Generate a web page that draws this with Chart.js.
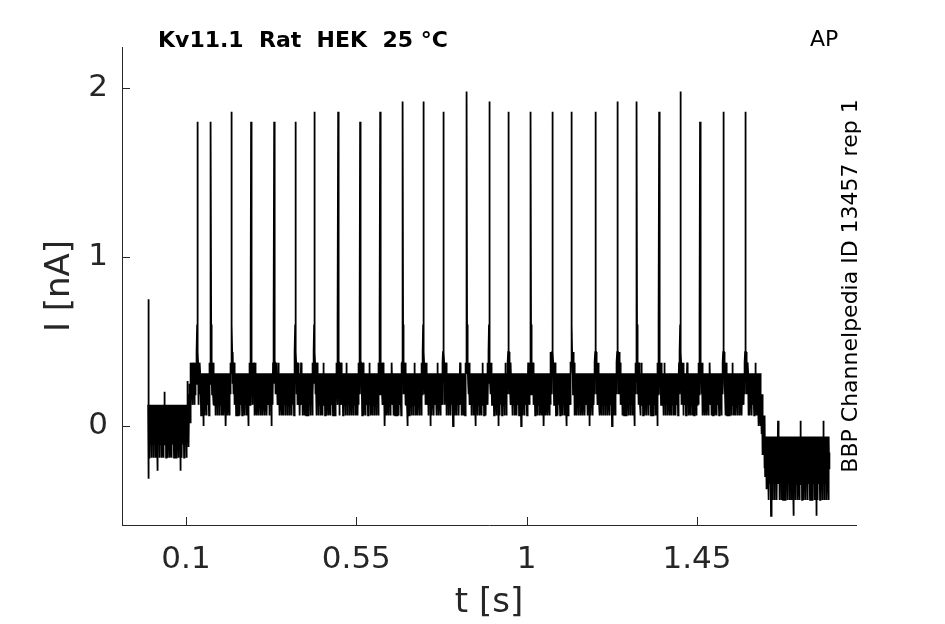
<!DOCTYPE html>
<html>
<head>
<meta charset="utf-8">
<title>Kv11.1 Rat HEK 25 °C - AP</title>
<script src="https://cdn.jsdelivr.net/npm/chart.js@4.4.0/dist/chart.umd.min.js"></script>
<style>
  html, body { margin: 0; padding: 0; background: #fff; }
  #wrap { width: 945px; height: 624px; }
</style>
</head>
<body>
<div id="wrap"><canvas id="traceChart" width="945" height="624"></canvas></div>
<script>
// Datos
const xTicks = [0.1, 0.55, 1, 1.45];
const yTicks = [0, 1, 2];
const sampleStep = 0.0005;  // s
const traceEnd = 1.8;       // s

// Tramos de la línea base: inicio (s), nivel inferior y superior del ruido (nA)
const segStart = [0, 0.104, 0.108, 0.112, 0.128, 1.612, 1.618, 1.624, 1.630, 1.640];
const segLo = [-0.1875, -0.125, -0.0625, 0.125, 0.0625, 0.0, -0.125, -0.25, -0.375, -0.4375];
const segHi = [0.125, 0.1875, 0.25, 0.375, 0.3125, 0.3125, 0.1875, 0.0625, -0.0625, -0.0625];

// Ruido de cuantización (en cuartos del tramo)
const noisePattern = [
  3,1,4,2,3,0,4,2,1,3,4,2,3,1,4,3,2,0,3,4,1,2,4,3,1,3,4,2,0,3,
  4,1,3,2,4,3,1,4,2,3,0,4,3,1,2,4,3,2,1,4,3,-1,2,4,1,3,4,2,3,0,
  4,2,3,1,4,3,2,4,1,3,0,4,2,3,4,1,2,4,3,1,4,2,0,3,4,1,3,2,5,3,
  1,4,2,3,4,0,2,3,1,4,3,2,4,1,3,0,4,2,3,1,4,3,2,1,4,0,3,4,2,3
];

// Transitorio inicial (nA)
const onsetTrace = [0.125, 0.75, 0.75, -0.3125, -0.1875];

// Picos de corriente
const spikeTimes = [0.130, 0.166, 0.221, 0.272, 0.333, 0.389, 0.439, 0.502, 0.560,
  0.613, 0.673, 0.727, 0.780, 0.842, 0.901, 0.952, 1.011, 1.068, 1.119, 1.182,
  1.240, 1.291, 1.350, 1.406, 1.458, 1.520, 1.578];
const spikePeaks = [1.80, 1.80, 1.86, 1.80, 1.80, 1.80, 1.86, 1.86, 1.80,
  1.86, 1.92, 1.92, 1.86, 1.98, 1.92, 1.86, 1.86, 1.86, 1.86, 1.86,
  1.92, 1.92, 1.86, 1.98, 1.80, 1.86, 1.86];
const spikeBefore = [0.375, 0.4375, 0.6];
const spikeAfter = [0.6, 0.4375, 0.4375, 0.375];
// Hombro alrededor de cada pico: ventana (s) y subida del ruido (nA)
const shoulderBefore = 0.004;
const shoulderAfter = 0.008;
const shoulderLift = 0.0625;

// Construir la traza
function buildTrace() {
  const points = [];
  const n = Math.round(traceEnd / sampleStep);
  let seg = 0;
  for (let i = 0; i <= n; i++) {
    const t = i * sampleStep;
    while (seg + 1 < segStart.length && t >= segStart[seg + 1] - 1e-9) seg++;
    const k = noisePattern[i % noisePattern.length];
    points.push({ x: t, y: segLo[seg] + k * (segHi[seg] - segLo[seg]) / 4 });
  }
  onsetTrace.forEach((v, j) => { points[j].y = v; });
  spikeTimes.forEach((ts, s) => {
    const i0 = Math.round(ts / sampleStep);
    const a = i0 - Math.round(shoulderBefore / sampleStep);
    const b = i0 + Math.round(shoulderAfter / sampleStep);
    for (let i = a; i <= b; i++) points[i].y += shoulderLift;
    spikeBefore.forEach((v, j) => { points[i0 - spikeBefore.length + j].y = v; });
    points[i0].y = spikePeaks[s];
    spikeAfter.forEach((v, j) => { points[i0 + 1 + j].y = v; });
  });
  return points;
}

const axisColor = '#262626';
const fontFamily = '"DejaVu Sans", "Liberation Sans", sans-serif';

// Marcas hacia dentro y textos sueltos
const decorPlugin = {
  id: 'decor',
  afterDraw(chart) {
    const { ctx, chartArea, scales } = chart;
    ctx.save();
    ctx.strokeStyle = axisColor;
    ctx.lineWidth = 1;
    ctx.beginPath();
    xTicks.forEach(v => {
      const x = Math.round(scales.x.getPixelForValue(v)) + 0.5;
      ctx.moveTo(x, chartArea.bottom);
      ctx.lineTo(x, chartArea.bottom - 8);
    });
    yTicks.forEach(v => {
      const y = Math.round(scales.y.getPixelForValue(v)) + 0.5;
      ctx.moveTo(chartArea.left, y);
      ctx.lineTo(chartArea.left + 8, y);
    });
    ctx.stroke();

    ctx.fillStyle = '#000';
    ctx.textBaseline = 'alphabetic';
    ctx.textAlign = 'left';
    ctx.font = 'bold 22px ' + fontFamily;
    ctx.fillText('Kv11.1  Rat  HEK  25 °C', 158, 47);
    ctx.font = '22px ' + fontFamily;
    ctx.fillText('AP', 810, 46);

    ctx.translate(851, 286);
    ctx.rotate(-Math.PI / 2);
    ctx.textAlign = 'center';
    ctx.textBaseline = 'middle';
    ctx.fillText('BBP Channelpedia ID 13457 rep 1', 0, 0);
    ctx.restore();
  }
};

const ctx = document.getElementById('traceChart').getContext('2d');
const chart = new Chart(ctx, {
  type: 'line',
  data: {
    datasets: [{
      data: buildTrace(),
      borderColor: '#000',
      borderWidth: 1.8,
      pointRadius: 0,
      fill: false,
      tension: 0
    }]
  },
  options: {
    responsive: false,
    animation: false,
    devicePixelRatio: 1,
    parsing: false,
    normalized: true,
    layout: { padding: { left: 0, right: 89, top: 47, bottom: 0 } },
    plugins: {
      legend: { display: false },
      tooltip: { enabled: false },
      title: { display: false }
    },
    scales: {
      x: {
        type: 'linear',
        min: -0.069,
        max: 1.870,
        grid: { display: false, drawTicks: false },
        border: { display: true, color: axisColor, width: 1 },
        afterBuildTicks: scale => { scale.ticks = xTicks.map(v => ({ value: v })); },
        afterFit: scale => { scale.height = 99; },
        ticks: {
          color: axisColor,
          font: { family: fontFamily, size: 31 },
          padding: 16,
          maxRotation: 0,
          autoSkip: false,
          callback: v => String(v)
        },
        title: {
          display: true,
          text: 't [s]',
          color: axisColor,
          font: { family: fontFamily, size: 34 },
          padding: { top: 0, bottom: 0 }
        }
      },
      y: {
        type: 'linear',
        min: -0.586,
        max: 2.243,
        grid: { display: false, drawTicks: false },
        border: { display: true, color: axisColor, width: 1 },
        afterBuildTicks: scale => { scale.ticks = yTicks.map(v => ({ value: v })); },
        afterFit: scale => { scale.width = 122; },
        ticks: {
          color: axisColor,
          font: { family: fontFamily, size: 31 },
          padding: 14,
          autoSkip: false,
          callback: v => String(v)
        },
        title: {
          display: true,
          text: 'I [nA]',
          color: axisColor,
          font: { family: fontFamily, size: 34 },
          padding: { top: 40, bottom: 0 }
        }
      }
    }
  },
  plugins: [decorPlugin]
});
</script>
</body>
</html>
